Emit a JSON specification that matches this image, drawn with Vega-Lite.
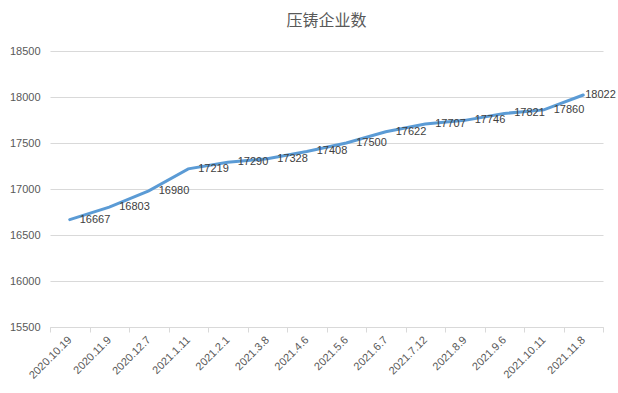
{
  "$schema": "https://vega.github.io/schema/vega-lite/v6.json",
  "autosize": {"type": "none"},
  "width": 553,
  "height": 276,
  "padding": {"left": 50, "top": 51, "right": 15, "bottom": 66},
  "background": "white",
  "title": {
    "text": "压铸企业数",
    "font": "Noto Sans CJK SC",
    "fontSize": 16,
    "fontWeight": "normal",
    "color": "#595959",
    "anchor": "middle",
    "offset": 16
  },
  "data": {
    "values": [
      {"date": "2020.10.19", "count": 16667},
      {"date": "2020.11.9", "count": 16803},
      {"date": "2020.12.7", "count": 16980},
      {"date": "2021.1.11", "count": 17219},
      {"date": "2021.2.1", "count": 17290},
      {"date": "2021.3.8", "count": 17328},
      {"date": "2021.4.6", "count": 17408},
      {"date": "2021.5.6", "count": 17500},
      {"date": "2021.6.7", "count": 17622},
      {"date": "2021.7.12", "count": 17707},
      {"date": "2021.8.9", "count": 17746},
      {"date": "2021.9.6", "count": 17821},
      {"date": "2021.10.11", "count": 17860},
      {"date": "2021.11.8", "count": 18022}
    ]
  },
  "encoding": {
    "x": {
      "field": "date",
      "type": "ordinal",
      "sort": null,
      "bandPosition": 0.5,
      "scale": {"type": "band", "paddingInner": 0, "paddingOuter": 0},
      "axis": {
        "title": null,
        "labelAngle": -45,
        "labelAlign": "right",
        "labelBaseline": "middle",
        "labelPadding": 6,
        "labelFont": "Liberation Sans",
        "labelFontSize": 11,
        "labelColor": "#595959",
        "domainColor": "#D9D9D9",
        "tickColor": "#D9D9D9",
        "tickBand": "extent",
        "tickSize": 5,
        "grid": false
      }
    },
    "y": {
      "field": "count",
      "type": "quantitative",
      "scale": {"domain": [15500, 18500], "nice": false, "zero": false},
      "axis": {
        "title": null,
        "values": [15500, 16000, 16500, 17000, 17500, 18000, 18500],
        "format": "d",
        "domain": false,
        "ticks": false,
        "labelPadding": 10,
        "labelFont": "Liberation Sans",
        "labelFontSize": 11,
        "labelColor": "#595959",
        "gridColor": "#D9D9D9",
        "grid": true
      }
    }
  },
  "layer": [
    {
      "mark": {"type": "line", "color": "#5B9BD5", "strokeWidth": 3, "strokeCap": "round"}
    },
    {
      "transform": [{"filter": "datum.date != '2021.11.8'"}],
      "mark": {"type": "text", "align": "left", "baseline": "middle", "dx": 10, "font": "Liberation Sans", "fontSize": 11, "color": "#404040"},
      "encoding": {"text": {"field": "count", "type": "quantitative", "format": "d"}}
    },
    {
      "transform": [{"filter": "datum.date == '2021.11.8'"}],
      "mark": {"type": "text", "align": "left", "baseline": "middle", "dx": 2, "font": "Liberation Sans", "fontSize": 11, "color": "#404040"},
      "encoding": {"text": {"field": "count", "type": "quantitative", "format": "d"}}
    }
  ],
  "config": {"view": {"stroke": null}}
}
